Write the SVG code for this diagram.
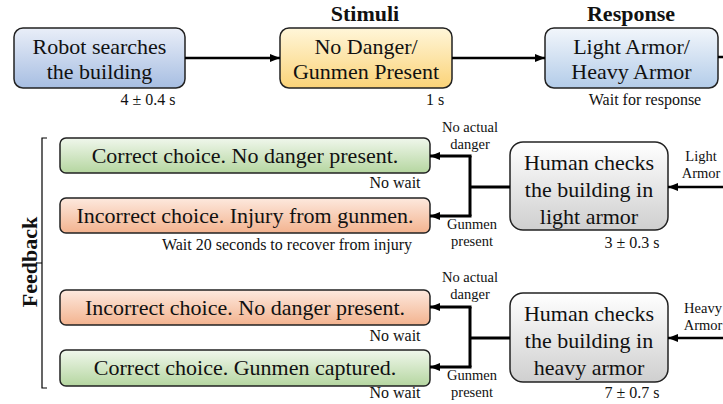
<svg xmlns="http://www.w3.org/2000/svg" width="723" height="404" viewBox="0 0 723 404" font-family="Liberation Serif, Times New Roman, serif">
<style>
text{font-family:'Liberation Serif','Times New Roman',serif}
.t{font-size:22px;fill:#111;text-anchor:middle}
.h{font-size:22px;font-weight:bold;fill:#111;text-anchor:middle}
.s{font-size:16px;fill:#111;text-anchor:middle}
.c{font-size:14.5px;fill:#111;text-anchor:middle}
.box{stroke:#222;stroke-width:1.5}
.ln{fill:none;stroke:#000;stroke-width:2.5}
.ln3{fill:none;stroke:#000;stroke-width:3}
.br{fill:none;stroke:#000;stroke-width:1.2}
</style>
<defs>
<linearGradient id="gBlue" x1="0" y1="0" x2="0" y2="1"><stop offset="0" stop-color="#e9eef8"/><stop offset="1" stop-color="#a7bee2"/></linearGradient>
<linearGradient id="gYel" x1="0" y1="0" x2="0" y2="1"><stop offset="0" stop-color="#fff6d9"/><stop offset="1" stop-color="#fbd378"/></linearGradient>
<linearGradient id="gLBlue" x1="0" y1="0" x2="0" y2="1"><stop offset="0" stop-color="#f2f6fb"/><stop offset="1" stop-color="#b3cce9"/></linearGradient>
<linearGradient id="gGreen" x1="0" y1="0" x2="0" y2="1"><stop offset="0" stop-color="#f0f7ec"/><stop offset="1" stop-color="#b5d6a0"/></linearGradient>
<linearGradient id="gOr" x1="0" y1="0" x2="0" y2="1"><stop offset="0" stop-color="#fde9de"/><stop offset="1" stop-color="#f3b38f"/></linearGradient>
<linearGradient id="gGray" x1="0" y1="0" x2="0" y2="1"><stop offset="0" stop-color="#ffffff"/><stop offset="1" stop-color="#cfcfcf"/></linearGradient>
<marker id="ah" markerUnits="userSpaceOnUse" markerWidth="10" markerHeight="10" viewBox="0 0 10 10" refX="10" refY="5" orient="auto"><path d="M0,1 L10,5 L0,9 z" fill="#000"/></marker>
</defs>

<text class="h" x="365" y="21">Stimuli</text>
<text class="h" x="631" y="21">Response</text>

<g id="robot">
<rect class="box" x="14" y="28" width="171" height="60" rx="9" fill="url(#gBlue)"/>
<text class="t" x="99.5" y="54">Robot searches</text>
<text class="t" x="99.5" y="79">the building</text>
<text class="s" x="148" y="105">4 ± 0.4 s</text>
</g>

<g id="stimuli">
<rect class="box" x="280" y="28" width="172" height="60" rx="9" fill="url(#gYel)"/>
<text class="t" x="366" y="54">No Danger/</text>
<text class="t" x="366" y="79">Gunmen Present</text>
<text class="s" x="435" y="105">1 s</text>
</g>

<g id="response">
<rect class="box" x="545" y="28" width="173" height="60" rx="9" fill="url(#gLBlue)"/>
<text class="t" x="631.5" y="54">Light Armor/</text>
<text class="t" x="631.5" y="79">Heavy Armor</text>
<text class="s" x="645" y="105">Wait for response</text>
</g>

<g id="feedback-label">
<path class="br" d="M47,138 H42 V388 H47 M42,263 H36"/>
<text class="h" transform="translate(37,262) rotate(-90)" x="0" y="0">Feedback</text>
</g>

<g id="fb1">
<rect class="box" x="60" y="138" width="370" height="35" rx="6" fill="url(#gGreen)"/>
<text class="t" x="245" y="163">Correct choice. No danger present.</text>
<text class="s" x="395" y="188">No wait</text>
</g>
<g id="fb2">
<rect class="box" x="60" y="198" width="370" height="35" rx="6" fill="url(#gOr)"/>
<text class="t" x="245" y="223">Incorrect choice. Injury from gunmen.</text>
<text class="s" x="287" y="250">Wait 20 seconds to recover from injury</text>
</g>
<g id="fb3">
<rect class="box" x="60" y="290" width="370" height="35" rx="6" fill="url(#gOr)"/>
<text class="t" x="245" y="315">Incorrect choice. No danger present.</text>
<text class="s" x="395" y="341">No wait</text>
</g>
<g id="fb4">
<rect class="box" x="60" y="350" width="370" height="36" rx="6" fill="url(#gGreen)"/>
<text class="t" x="245" y="375">Correct choice. Gunmen captured.</text>
<text class="s" x="395" y="398">No wait</text>
</g>

<g id="human-light">
<rect class="box" x="510" y="142" width="158" height="88" rx="13" fill="url(#gGray)"/>
<text class="t" x="589" y="170">Human checks</text>
<text class="t" x="589" y="197">the building in</text>
<text class="t" x="589" y="224">light armor</text>
<text class="s" x="632" y="248">3 ± 0.3 s</text>
</g>
<g id="human-heavy">
<rect class="box" x="510" y="293" width="158" height="89" rx="13" fill="url(#gGray)"/>
<text class="t" x="589" y="321">Human checks</text>
<text class="t" x="589" y="348">the building in</text>
<text class="t" x="589" y="375">heavy armor</text>
<text class="s" x="632" y="398">7 ± 0.7 s</text>
</g>

<g id="connectors">
<path class="ln" d="M185,58 H280" marker-end="url(#ah)"/>
<path class="ln" d="M452,58 H545" marker-end="url(#ah)"/>
<path class="ln" d="M718,57 H723"/>
<path class="ln3" d="M510,187 H470"/>
<path class="ln3" d="M470,156 V216"/>
<path class="ln3" d="M471.5,156 H430" marker-end="url(#ah)"/>
<path class="ln3" d="M471.5,216 H430" marker-end="url(#ah)"/>
<path class="ln3" d="M510,338 H470"/>
<path class="ln3" d="M470,307 V367"/>
<path class="ln3" d="M471.5,307 H430" marker-end="url(#ah)"/>
<path class="ln3" d="M471.5,367 H430" marker-end="url(#ah)"/>
<path class="ln" d="M723,187 H668" marker-end="url(#ah)"/>
<path class="ln" d="M723,338 H668" marker-end="url(#ah)"/>
<text class="c" x="470" y="132">No actual</text>
<text class="c" x="470" y="149">danger</text>
<text class="c" x="472" y="229">Gunmen</text>
<text class="c" x="472" y="246">present</text>
<text class="c" x="470" y="282">No actual</text>
<text class="c" x="470" y="299">danger</text>
<text class="c" x="472" y="380">Gunmen</text>
<text class="c" x="472" y="397">present</text>
<text class="c" x="701" y="161">Light</text>
<text class="c" x="701" y="178">Armor</text>
<text class="c" x="703" y="313">Heavy</text>
<text class="c" x="703" y="330">Armor</text>
</g>
</svg>
